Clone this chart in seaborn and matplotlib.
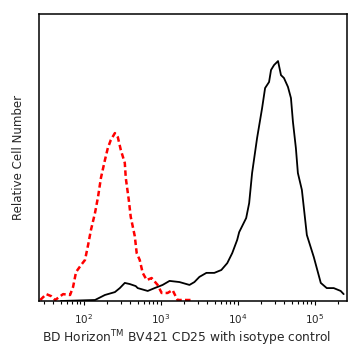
import matplotlib as mpl
mpl.use("Agg")
import matplotlib.pyplot as plt
import seaborn as sns
import numpy as np

# BV421 CD25 stained sample (black, solid)
stained_fl = [50, 139, 187, 252, 292, 339, 394, 470, 499, 673, 828, 1052, 1294, 1742,
              2349, 2723, 3162, 3899, 4943, 6094, 7280, 8450, 9800, 10400, 12820, 14020,
              15310, 17780, 20650, 22590, 25430, 26990, 29510, 33270, 36340, 39720,
              44770, 48980, 51990, 56760, 60260, 67920, 78830, 97050, 119600, 143000,
              176200, 216900, 237200]
stained_count = [0, 0.35, 2.1, 3.1, 4.5, 6.3, 5.9, 5.2, 4.5, 3.5, 4.5, 5.6, 7.0, 6.6,
                 5.6, 6.6, 8.4, 9.8, 9.8, 10.8, 13.2, 16.7, 21.3, 24.0, 28.9, 34.1,
                 44.6, 56.8, 67.2, 74.2, 76.3, 80.5, 82.2, 83.6, 78.7, 77.7,
                 74.6, 70.7, 62.4, 53.3, 44.6, 38.7, 23.0, 15.3, 6.3, 4.5,
                 4.5, 3.5, 2.4]

# isotype control (red, dashed)
isotype_fl = [27, 32.3, 37.4, 42.2, 53.5, 65.9, 72.1, 78.8, 91.4, 103, 113, 123, 139,
              152, 166, 187, 204, 223, 252, 275, 301, 339, 349, 382, 405, 457, 484,
              530, 579, 653, 757, 906, 1021, 1219, 1416, 1643, 2148, 2570]
isotype_count = [0.35, 2.4, 1.7, 0.35, 2.4, 2.1, 4.9, 10.1, 12.5, 14.3, 19.5, 24.7, 30.7,
                 36.2, 42.9, 49.1, 53.3, 56.1, 58.5, 57.1, 52.6, 48.1, 42.9, 35.2, 29.3, 22.6, 16.7,
                 14.3, 9.8, 7.3, 8.0, 5.6, 2.8, 2.8, 3.8, 0.35, 0.35, 0.35]

sns.set_style("white")
plt.rcParams['font.family'] = ['DejaVu Sans']
plt.rcParams['mathtext.fontset'] = 'dejavusans'

fig = plt.figure(figsize=(3.58, 3.61), dpi=100)
ax = fig.add_axes([39/358, 60/361, 308/358, 287/361])

sns.lineplot(x=stained_fl, y=stained_count, ax=ax, color="black", linewidth=1.3,
             sort=False, estimator=None)
sns.lineplot(x=isotype_fl, y=isotype_count, ax=ax, color="#ff0000", linewidth=1.8,
             sort=False, estimator=None, linestyle=(0, (2.2, 1.3)))

ax.set_xscale("log")
ax.set_xlim(26, 262144)
ax.set_ylim(0, 100)
ax.set_yticks([])
ax.set_xticks([1e2, 1e3, 1e4, 1e5])
ax.tick_params(axis="x", which="major", direction="out", length=3, width=0.8,
               color="black", labelsize=7.5, pad=5, bottom=True)
ax.tick_params(axis="x", which="minor", direction="out", length=1.8, width=0.8,
               color="black", bottom=True)
for s in ax.spines.values():
    s.set_color("black")
    s.set_linewidth(1.1)

ax.set_xlabel("BD Horizon$^{\\mathrm{TM}}$ BV421 CD25 with isotype control", fontsize=8.8)
ax.xaxis.set_label_coords(0.48, -0.095)
ax.set_ylabel("Relative Cell Number", fontsize=8.5, labelpad=10)

fig.savefig("out.png", dpi=100)
